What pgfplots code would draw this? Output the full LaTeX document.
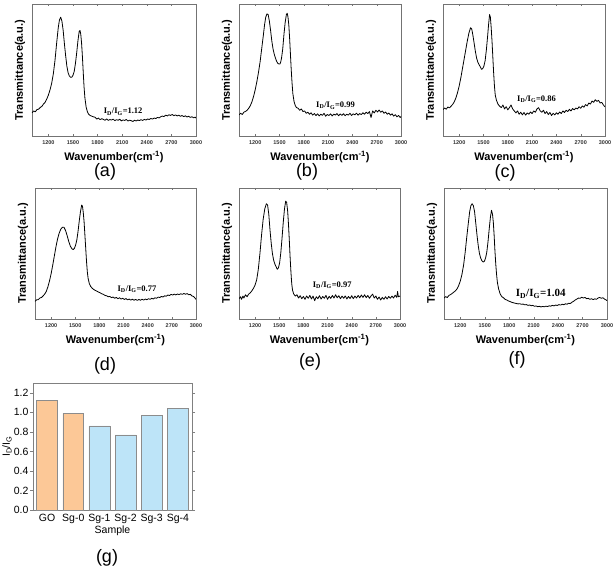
\documentclass[border=0pt]{standalone}
\usepackage{pgfplots}
\pgfplotsset{compat=1.18}
\usepackage{fontspec}
\setmainfont{Liberation Sans}
\newfontfamily\serifb{Liberation Serif}
\definecolor{orbar}{HTML}{FCC897}
\definecolor{blbar}{HTML}{BDE4F8}
\pgfplotsset{
  spec/.style={scale only axis, xmin=1000, xmax=3000, ymin=0, ymax=1,
    ytick=\empty, xtick={1200,1500,...,3000},
    axis line style={black!55}, tick style={black!55}, tick align=inside,
    major tick length=2pt,
    /pgf/number format/assume math mode=true, /pgf/number format/1000 sep={},
    xticklabel style={font=\bfseries\fontsize{5.5}{6}\selectfont, text=black!80, yshift=-1.5pt},
    xlabel={Wavenumber(cm\textsuperscript{-1})},
    ylabel={Transmittance(a.u.)},
    xlabel style={font=\bfseries\fontsize{11}{12}\selectfont, at={(axis description cs:0.5,0)}, anchor=center, yshift=-21pt},
    ylabel style={font=\bfseries\fontsize{11}{12}\selectfont, at={(axis description cs:0,0.5)}, anchor=center, yshift=12pt},
  },
  sp/.style={black, no markers, line width=0.8pt, line join=round},
}
\tikzset{ann/.style={font=\serifb\bfseries\fontsize{8.5}{9}\selectfont, anchor=center}}
\newcommand{\IDG}[1]{I\textsubscript{D}/I\textsubscript{G}=#1}
\begin{document}
\begin{tikzpicture}
\useasboundingbox (0,0) rectangle (616pt,571pt);
% (a)
\begin{axis}[spec, at={(32pt,435pt)}, anchor=south west, width=164pt, height=132pt]
\addplot[sp] coordinates {
(1000,0.175)(1020,0.19)(1040,0.183)(1060,0.20)(1080,0.203)(1100,0.216)(1120,0.224)(1140,0.242)(1160,0.255)(1180,0.28)(1200,0.31)(1220,0.35)(1240,0.40)(1260,0.47)(1280,0.57)(1300,0.70)(1320,0.82)(1335,0.88)(1350,0.90)(1365,0.87)(1380,0.80)(1395,0.70)(1410,0.61)(1425,0.53)(1440,0.48)(1455,0.455)(1470,0.445)(1485,0.445)(1500,0.46)(1515,0.49)(1530,0.55)(1545,0.63)(1560,0.72)(1575,0.79)(1585,0.80)(1595,0.77)(1605,0.70)(1615,0.60)(1625,0.48)(1635,0.37)(1645,0.29)(1660,0.22)(1675,0.185)(1690,0.165)(1710,0.155)(1730,0.15)(1750,0.145)
(1770,0.142)(1790,0.128)(1810,0.136)(1830,0.124)(1850,0.131)(1870,0.126)(1890,0.119)(1910,0.130)(1930,0.118)(1950,0.125)(1970,0.121)(1990,0.128)(2010,0.116)(2030,0.124)(2050,0.119)(2070,0.127)(2090,0.114)(2110,0.122)(2130,0.118)(2150,0.125)(2170,0.113)(2190,0.120)(2210,0.116)(2230,0.110)(2250,0.119)(2270,0.114)(2290,0.121)(2310,0.117)(2330,0.124)(2350,0.118)(2370,0.126)(2390,0.121)(2410,0.129)(2430,0.125)(2450,0.133)(2470,0.128)(2490,0.136)(2510,0.132)(2530,0.141)(2550,0.137)(2570,0.146)(2590,0.151)(2610,0.147)(2630,0.158)(2650,0.152)(2670,0.161)(2690,0.156)(2710,0.163)(2730,0.154)(2750,0.160)(2770,0.152)(2790,0.158)(2810,0.149)(2830,0.155)(2850,0.147)(2870,0.153)(2890,0.144)(2910,0.150)(2930,0.141)(2950,0.146)(2970,0.138)(2990,0.143)(3000,0.135)
};
\node[ann] at (axis cs:2112,0.184) {\IDG{1.12}};
\end{axis}
% (b)
\begin{axis}[spec, at={(239pt,435pt)}, anchor=south west, width=162pt, height=132pt]
\addplot[sp] coordinates {
(1000,0.16)(1020,0.172)(1040,0.163)(1060,0.18)(1080,0.186)(1100,0.195)(1120,0.21)(1140,0.23)(1160,0.26)(1180,0.30)(1200,0.35)(1220,0.41)(1240,0.48)(1260,0.56)(1280,0.66)(1300,0.76)(1315,0.84)(1330,0.90)(1345,0.925)(1360,0.92)(1375,0.87)(1390,0.80)(1405,0.72)(1420,0.66)(1435,0.62)(1450,0.59)(1465,0.565)(1480,0.55)(1495,0.545)(1505,0.545)(1515,0.56)(1525,0.59)(1540,0.66)(1555,0.77)(1570,0.86)(1585,0.92)(1595,0.93)(1605,0.90)(1615,0.84)(1625,0.74)(1635,0.62)(1645,0.50)(1655,0.40)(1665,0.32)(1680,0.26)(1695,0.23)(1710,0.215)
(1730,0.21)(1750,0.195)(1770,0.205)(1790,0.185)(1810,0.19)(1830,0.172)(1850,0.18)(1870,0.165)(1890,0.176)(1910,0.158)(1930,0.17)(1950,0.155)(1970,0.168)(1990,0.152)(2010,0.165)(2030,0.156)(2050,0.172)(2070,0.150)(2090,0.163)(2110,0.155)(2130,0.168)(2150,0.152)(2170,0.166)(2190,0.158)(2210,0.17)(2230,0.153)(2250,0.167)(2270,0.156)(2290,0.169)(2310,0.154)(2330,0.165)(2350,0.158)(2370,0.172)(2390,0.155)(2410,0.168)(2430,0.16)(2450,0.173)(2470,0.158)(2490,0.17)(2510,0.162)(2530,0.176)(2550,0.165)(2570,0.18)(2590,0.17)(2610,0.185)(2630,0.14)(2650,0.19)(2670,0.175)(2690,0.195)(2710,0.182)(2730,0.197)(2750,0.18)(2770,0.19)(2790,0.172)(2810,0.182)(2830,0.165)(2850,0.174)(2870,0.158)(2890,0.168)(2910,0.15)(2930,0.162)(2950,0.145)(2970,0.156)(2990,0.14)(3000,0.148)
};
\node[ann] at (axis cs:2192,0.23) {\IDG{0.99}};
\end{axis}
% (c)
\begin{axis}[spec, at={(443pt,435pt)}, anchor=south west, width=162pt, height=132pt]
\addplot[sp] coordinates {
(1000,0.20)(1020,0.212)(1040,0.203)(1060,0.22)(1080,0.213)(1100,0.226)(1120,0.24)(1140,0.26)(1160,0.29)(1180,0.33)(1200,0.38)(1220,0.44)(1240,0.51)(1260,0.58)(1280,0.65)(1300,0.72)(1320,0.78)(1340,0.82)(1355,0.81)(1370,0.76)(1385,0.70)(1400,0.64)(1415,0.59)(1430,0.56)(1445,0.54)(1460,0.525)(1475,0.505)(1490,0.51)(1505,0.53)(1520,0.57)(1535,0.65)(1550,0.75)(1562,0.84)(1575,0.92)(1585,0.90)(1595,0.82)(1605,0.72)(1615,0.60)(1625,0.48)(1635,0.38)(1645,0.31)(1660,0.27)(1680,0.24)(1700,0.225)
(1720,0.215)(1740,0.235)(1760,0.205)(1780,0.222)(1800,0.198)(1820,0.215)(1840,0.235)(1860,0.205)(1880,0.19)(1900,0.175)(1920,0.19)(1940,0.165)(1960,0.18)(1980,0.16)(2000,0.178)(2020,0.158)(2040,0.175)(2060,0.165)(2080,0.182)(2100,0.17)(2120,0.19)(2140,0.18)(2160,0.205)(2180,0.215)(2200,0.19)(2220,0.18)(2240,0.195)(2260,0.17)(2280,0.185)(2300,0.162)(2320,0.178)(2340,0.155)(2360,0.172)(2380,0.16)(2400,0.176)(2420,0.165)(2440,0.182)(2460,0.17)(2480,0.19)(2500,0.178)(2520,0.195)(2540,0.185)(2560,0.202)(2580,0.19)(2600,0.208)(2620,0.198)(2640,0.212)(2660,0.205)(2680,0.222)(2700,0.21)(2720,0.228)(2740,0.218)(2760,0.238)(2780,0.228)(2800,0.25)(2820,0.242)(2840,0.265)(2860,0.255)(2880,0.275)(2900,0.262)(2920,0.27)(2940,0.25)(2960,0.255)(2980,0.235)(3000,0.22)
};
\node[ann] at (axis cs:2155,0.28) {\IDG{0.86}};
\end{axis}
% (d)
\begin{axis}[spec, at={(35pt,252pt)}, anchor=south west, width=161pt, height=131pt]
\addplot[sp] coordinates {
(1000,0.135)(1020,0.146)(1040,0.148)(1060,0.16)(1080,0.164)(1100,0.176)(1120,0.19)(1140,0.21)(1160,0.245)(1180,0.29)(1200,0.345)(1220,0.41)(1240,0.48)(1260,0.55)(1280,0.61)(1300,0.655)(1320,0.685)(1340,0.70)(1360,0.70)(1380,0.675)(1400,0.635)(1420,0.59)(1440,0.555)(1460,0.535)(1475,0.53)(1490,0.54)(1505,0.565)(1520,0.605)(1535,0.67)(1550,0.75)(1565,0.82)(1580,0.87)(1590,0.86)(1600,0.81)(1610,0.74)(1620,0.64)(1630,0.54)(1640,0.44)(1650,0.36)(1660,0.31)(1675,0.27)(1690,0.25)(1710,0.235)
(1730,0.225)(1750,0.218)(1770,0.212)(1790,0.205)(1810,0.2)(1830,0.192)(1850,0.188)(1870,0.18)(1890,0.177)(1910,0.17)(1930,0.172)(1950,0.163)(1970,0.168)(1990,0.158)(2010,0.165)(2030,0.155)(2050,0.162)(2070,0.152)(2090,0.158)(2110,0.149)(2130,0.156)(2150,0.146)(2170,0.152)(2190,0.144)(2210,0.151)(2230,0.143)(2250,0.15)(2270,0.142)(2290,0.149)(2310,0.143)(2330,0.151)(2350,0.144)(2370,0.152)(2390,0.147)(2410,0.155)(2430,0.15)(2450,0.158)(2470,0.153)(2490,0.162)(2510,0.158)(2530,0.167)(2550,0.164)(2570,0.172)(2590,0.168)(2610,0.177)(2630,0.174)(2650,0.183)(2670,0.179)(2690,0.188)(2710,0.183)(2730,0.19)(2750,0.184)(2770,0.191)(2790,0.186)(2810,0.193)(2830,0.188)(2850,0.195)(2870,0.189)(2890,0.194)(2910,0.185)(2930,0.188)(2950,0.176)(2970,0.172)(2990,0.158)(3000,0.15)
};
\node[ann] at (axis cs:2267,0.23) {\IDG{0.77}};
\end{axis}
% (e)
\begin{axis}[spec, at={(239pt,252pt)}, anchor=south west, width=161pt, height=131pt]
\addplot[sp] coordinates {
(1000,0.155)(1020,0.17)(1030,0.15)(1050,0.175)(1060,0.16)(1080,0.185)(1100,0.17)(1120,0.19)(1140,0.2)(1160,0.215)(1180,0.235)(1200,0.26)(1220,0.30)(1240,0.38)(1260,0.50)(1280,0.64)(1300,0.76)(1320,0.84)(1340,0.88)(1355,0.87)(1370,0.80)(1385,0.68)(1400,0.58)(1415,0.50)(1430,0.45)(1445,0.42)(1460,0.40)(1475,0.38)(1490,0.39)(1505,0.43)(1520,0.51)(1535,0.62)(1550,0.74)(1565,0.84)(1580,0.90)(1592,0.89)(1605,0.82)(1615,0.72)(1625,0.60)(1635,0.47)(1645,0.36)(1655,0.27)(1665,0.22)(1680,0.19)(1700,0.175)
(1720,0.185)(1740,0.16)(1760,0.178)(1780,0.155)(1800,0.172)(1820,0.15)(1840,0.176)(1860,0.158)(1880,0.18)(1900,0.153)(1920,0.175)(1940,0.14)(1960,0.17)(1980,0.155)(2000,0.178)(2020,0.152)(2040,0.172)(2060,0.158)(2080,0.18)(2100,0.15)(2120,0.173)(2140,0.157)(2160,0.18)(2180,0.16)(2200,0.185)(2220,0.162)(2240,0.178)(2260,0.155)(2280,0.175)(2300,0.158)(2320,0.176)(2340,0.153)(2360,0.172)(2380,0.156)(2400,0.178)(2420,0.155)(2440,0.175)(2460,0.16)(2480,0.18)(2500,0.162)(2520,0.183)(2540,0.165)(2560,0.185)(2580,0.163)(2600,0.18)(2620,0.158)(2640,0.176)(2660,0.19)(2680,0.16)(2700,0.175)(2720,0.15)(2740,0.168)(2760,0.145)(2780,0.165)(2800,0.15)(2820,0.17)(2840,0.153)(2860,0.172)(2880,0.158)(2900,0.175)(2920,0.16)(2940,0.182)(2960,0.165)(2970,0.21)(2980,0.17)(3000,0.175)
};
\node[ann] at (axis cs:2158,0.26) {\IDG{0.97}};
\end{axis}
% (f)
\begin{axis}[spec, at={(444pt,252pt)}, anchor=south west, width=163pt, height=131pt]
\addplot[sp] coordinates {
(1000,0.16)(1020,0.171)(1040,0.164)(1060,0.18)(1080,0.186)(1100,0.195)(1120,0.205)(1140,0.215)(1160,0.23)(1180,0.255)(1200,0.29)(1220,0.34)(1240,0.41)(1260,0.51)(1280,0.63)(1300,0.74)(1315,0.82)(1330,0.865)(1345,0.88)(1360,0.865)(1375,0.82)(1390,0.73)(1405,0.64)(1420,0.56)(1435,0.50)(1450,0.465)(1465,0.445)(1480,0.435)(1495,0.44)(1510,0.465)(1525,0.51)(1540,0.59)(1555,0.69)(1570,0.78)(1583,0.83)(1595,0.80)(1605,0.74)(1615,0.64)(1625,0.52)(1635,0.42)(1645,0.34)(1655,0.28)(1670,0.23)(1690,0.19)(1710,0.17)
(1730,0.162)(1750,0.15)(1770,0.145)(1790,0.138)(1810,0.133)(1830,0.128)(1850,0.124)(1870,0.121)(1890,0.118)(1910,0.115)(1930,0.117)(1950,0.112)(1970,0.114)(1990,0.108)(2010,0.11)(2030,0.104)(2050,0.107)(2070,0.101)(2090,0.104)(2110,0.097)(2130,0.1)(2150,0.094)(2170,0.097)(2190,0.092)(2210,0.096)(2230,0.093)(2250,0.098)(2270,0.095)(2290,0.101)(2310,0.098)(2330,0.104)(2350,0.1)(2370,0.107)(2390,0.103)(2410,0.11)(2430,0.106)(2450,0.113)(2470,0.109)(2490,0.116)(2510,0.113)(2530,0.12)(2550,0.118)(2570,0.128)(2590,0.135)(2610,0.145)(2630,0.152)(2650,0.16)(2670,0.158)(2690,0.166)(2710,0.16)(2730,0.165)(2750,0.155)(2770,0.158)(2790,0.15)(2810,0.155)(2830,0.148)(2850,0.154)(2870,0.15)(2890,0.16)(2910,0.165)(2930,0.158)(2950,0.162)(2970,0.152)(2990,0.145)(3000,0.14)
};
\node[ann, font=\serifb\bfseries\fontsize{11}{12}\selectfont] at (axis cs:2187,0.19) {\IDG{1.04}};
\end{axis}
% (g)
\begin{axis}[scale only axis, at={(33pt,61pt)}, anchor=south west, width=159pt, height=127pt,
  xmin=-0.54, xmax=5.54, ymin=0, ymax=1.3,
  xtick={0,1,2,3,4,5}, xticklabels={GO,Sg-0,Sg-1,Sg-2,Sg-3,Sg-4},
  ytick={0,0.2,...,1.2}, major x tick style={draw=none},
  axis line style={black!50}, tick style={black!50}, tick align=outside, major tick length=3pt,
  /pgf/number format/assume math mode=true,
  /pgf/number format/fixed, /pgf/number format/fixed zerofill, /pgf/number format/precision=1,
  ticklabel style={font=\fontsize{10.5}{12}\selectfont},
  yticklabel style={xshift=2pt},
  xticklabel style={yshift=2pt},
  xlabel={Sample}, ylabel={I\textsubscript{D}/I\textsubscript{G}},
  xlabel style={font=\fontsize{10.5}{12}\selectfont, at={(axis description cs:0.5,0)}, anchor=center, yshift=-21pt},
  ylabel style={font=\fontsize{10.5}{12}\selectfont, at={(axis description cs:0,0.5)}, anchor=center, yshift=26pt},
  ybar, bar width=0.8, bar shift=0pt]
\addplot[fill=orbar, draw=black!45, line width=0.5pt] coordinates {(0,1.12)(1,0.99)};
\addplot[fill=blbar, draw=black!45, line width=0.5pt] coordinates {(2,0.86)(3,0.77)(4,0.97)(5,1.04)};
\end{axis}
% panel letters
\node[font=\fontsize{18}{20}\selectfont] at (105pt,399pt) {(a)};
\node[font=\fontsize{18}{20}\selectfont] at (307pt,399pt) {(b)};
\node[font=\fontsize{18}{20}\selectfont] at (505pt,398pt) {(c)};
\node[font=\fontsize{18}{20}\selectfont] at (105pt,205pt) {(d)};
\node[font=\fontsize{18}{20}\selectfont] at (310pt,209pt) {(e)};
\node[font=\fontsize{18}{20}\selectfont] at (517pt,211pt) {(f)};
\node[font=\fontsize{18}{20}\selectfont] at (107pt,13pt) {(g)};
\end{tikzpicture}
\end{document}
